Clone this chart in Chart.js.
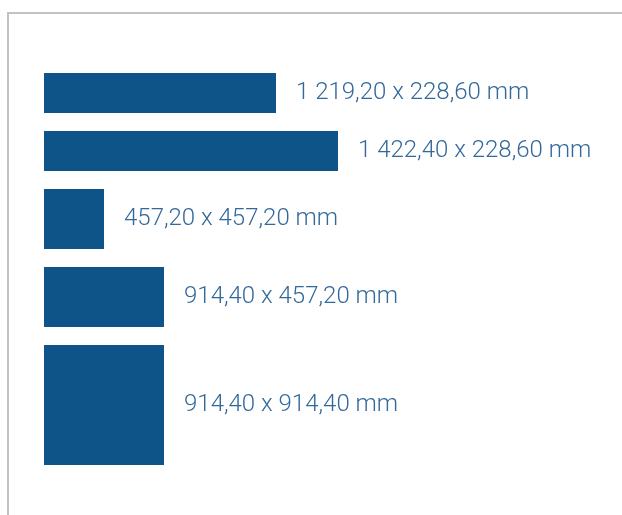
<!DOCTYPE html>
<html lang="en">
<head>
    <meta charset="UTF-8">
    <title>Formats</title>
    <script src="https://cdn.jsdelivr.net/npm/chart.js"></script>
    <style>
        html, body {
            margin: 0;
            padding: 0;
            background: #ffffff;
        }
        .wrap {
            position: relative;
            width: 622px;
            height: 515px;
        }
        .frame {
            position: absolute;
            left: 7px;
            top: 12px;
            right: 0;
            bottom: 0;
            border-top: 2px solid #c2c2c2;
            border-left: 2px solid #c2c2c2;
        }
        canvas {
            position: absolute;
            left: 0;
            top: 0;
        }
    </style>
</head>
<body>
    <div class="wrap">
        <div class="frame"></div>
        <canvas id="formatChart" width="622" height="515"></canvas>
    </div>

    <script>
        // Format labels (mm)
        const lengthMm = ['1 219,20', '1 422,40', '457,20', '914,40', '914,40'];
        const widthMm = ['228,60', '228,60', '457,20', '457,20', '914,40'];

        // Rectangle extents as drawn in the picture (in mm-equivalent units)
        const drawLength = [1767.84, 2240.28, 457.2, 914.4, 914.4];
        const drawWidth = [304.8, 304.8, 457.2, 457.2, 914.4];

        const GAP = 137.16;
        const BLUE = '#0f5489';

        // build one closed rectangle per format
        let yTop = 0;
        const datasets = drawLength.map((len, i) => {
            const h = drawWidth[i];
            const pts = [
                { x: 0, y: yTop },
                { x: len, y: yTop },
                { x: len, y: yTop + h },
                { x: 0, y: yTop + h },
                { x: 0, y: yTop }
            ];
            const ds = {
                label: lengthMm[i] + ' x ' + widthMm[i] + ' mm',
                data: pts,
                showLine: true,
                fill: 'shape',
                backgroundColor: BLUE,
                borderColor: BLUE,
                borderWidth: 0,
                pointRadius: 0,
                tension: 0,
                meta: { len: len, mid: yTop + h / 2 }
            };
            yTop += h + GAP;
            return ds;
        });

        const labelPlugin = {
            id: 'sizeLabels',
            afterDatasetsDraw(chart) {
                const ctx = chart.ctx;
                const xs = chart.scales.x, ys = chart.scales.y;
                ctx.save();
                ctx.font = '300 24px Roboto, "DejaVu Sans", sans-serif';
                ctx.fillStyle = '#33699a';
                ctx.textBaseline = 'middle';
                ctx.textAlign = 'left';
                chart.data.datasets.forEach(ds => {
                    const px = xs.getPixelForValue(ds.meta.len) + 20;
                    const py = ys.getPixelForValue(ds.meta.mid);
                    ctx.fillText(ds.label, px, py);
                });
                ctx.restore();
            }
        };

        new Chart(document.getElementById('formatChart'), {
            type: 'scatter',
            data: { datasets: datasets },
            options: {
                responsive: false,
                animation: false,
                layout: { padding: { left: 44, top: 73, right: 18, bottom: 50 } },
                scales: {
                    x: { type: 'linear', min: 0, max: 4267.2, display: false },
                    y: { type: 'linear', min: 0, max: 2987.04, reverse: true, display: false }
                },
                plugins: {
                    legend: { display: false },
                    tooltip: { enabled: false }
                }
            },
            plugins: [labelPlugin]
        });
    </script>
</body>
</html>
